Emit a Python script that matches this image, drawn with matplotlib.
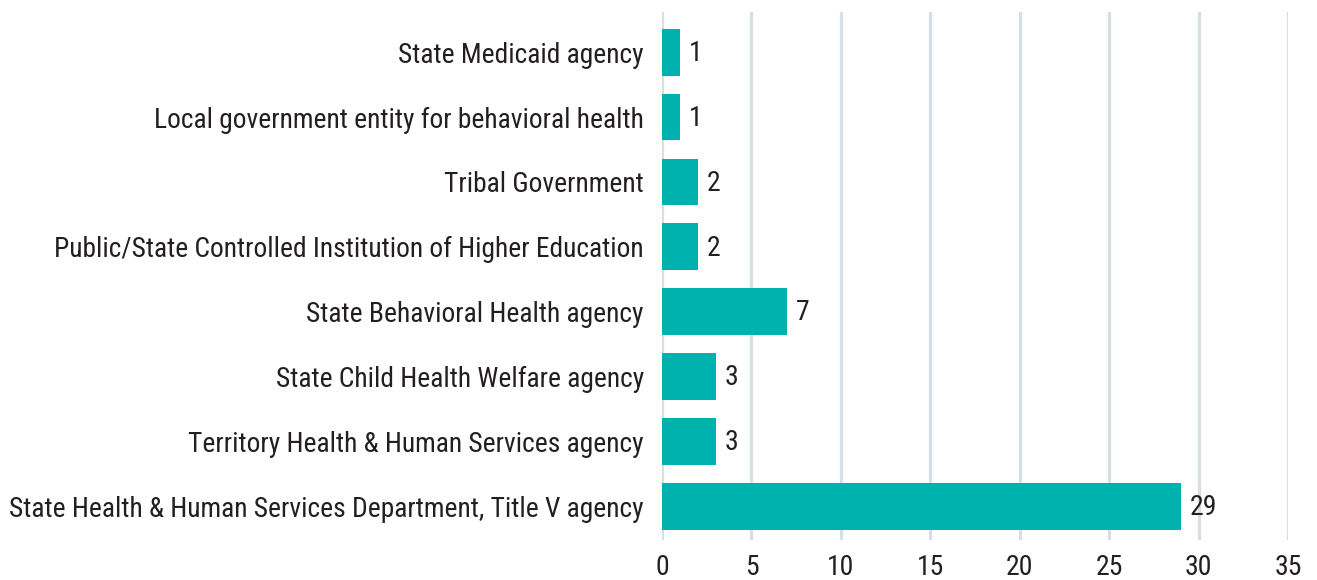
import matplotlib.pyplot as plt
import matplotlib.font_manager as fm

categories = ['State Health & Human Services Department, Title V agency',
              'Territory Health & Human Services agency',
              'State Child Health Welfare agency',
              'State Behavioral Health agency',
              'Public/State Controlled Institution of Higher Education',
              'Tribal Government',
              'Local government entity for behavioral health',
              'State Medicaid agency']
counts = [29, 3, 3, 7, 2, 2, 1, 1]
xticks = [0, 5, 10, 15, 20, 25, 30, 35]

# pick a condensed face if one is installed
names = {f.name for f in fm.fontManager.ttflist}
fam = 'Liberation Sans'
for cand in ['Roboto Condensed', 'Archivo Narrow', 'Liberation Sans Narrow',
             'PT Sans Narrow', 'Fira Sans Condensed', 'IBM Plex Sans Condensed']:
    if cand in names:
        fam = cand
        break
plt.rcParams['font.family'] = [fam, 'DejaVu Sans']

fig = plt.figure(figsize=(13.17, 5.8), dpi=100)
ax = fig.add_axes([662/1317, 1-540/580, (1288-662)/1317, (540-12)/580])

pos = range(len(categories))
ax.barh(pos, counts, height=0.72, color='#00B2AE', zorder=3)
for i, v in zip(pos, counts):
    ax.text(v + 0.5, i - 0.02, str(v), va='center', ha='left', fontsize=20, color='#231F20')

ax.set_xlim(0, 35)
ax.set_ylim(-0.52, 7.62)
ax.set_xticks(xticks)
ax.set_yticks(list(pos))
ax.set_yticklabels(categories)
ax.tick_params(axis='y', length=0, pad=13, labelsize=19.8, labelcolor='#231F20')
ax.tick_params(axis='x', length=0, pad=10, labelsize=20, labelcolor='#231F20')
ax.grid(axis='x', color='#D6DFE3', linewidth=2.3, zorder=0)
for s in ax.spines.values():
    s.set_visible(False)

fig.savefig('out.png', dpi=100)
